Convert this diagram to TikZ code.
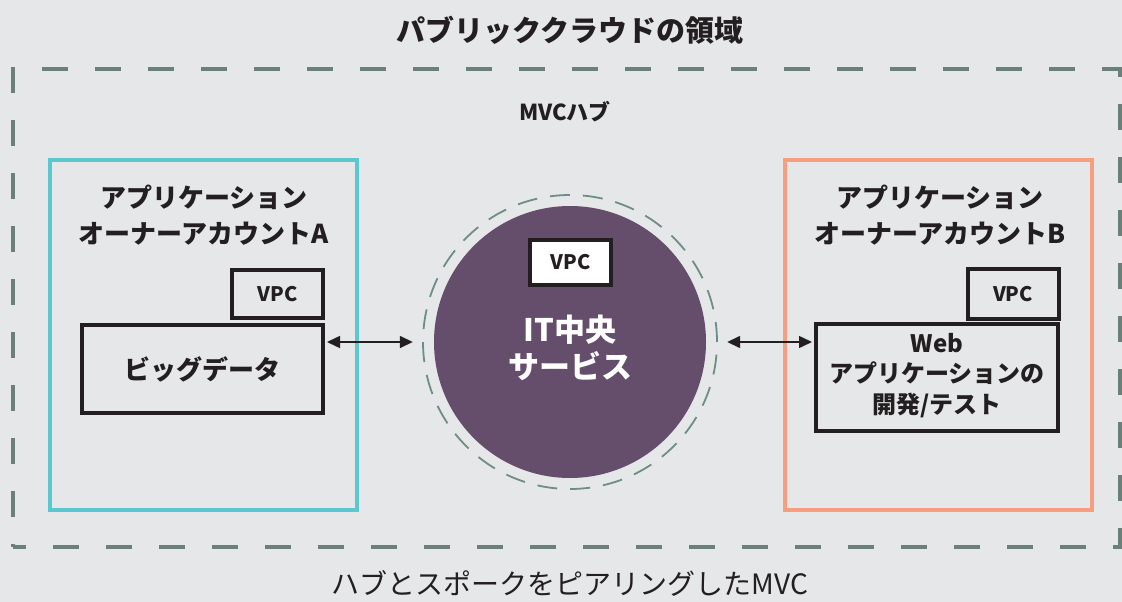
\documentclass[tikz,border=0pt]{standalone}
\usepackage{fontspec}
\setmainfont{Noto Sans CJK JP}
\usetikzlibrary{arrows.meta}
\definecolor{bgc}{HTML}{E6E7E9}
\definecolor{dashc}{HTML}{6B8078}
\definecolor{ringc}{HTML}{6E8E84}
\definecolor{cyanc}{HTML}{5BC8D1}
\definecolor{salmonc}{HTML}{F79D80}
\definecolor{purplec}{HTML}{654E6B}
\definecolor{inkc}{HTML}{231F20}
\tikzset{
  acct/.style={draw, line width=4pt, minimum width=307pt, minimum height=350pt, inner sep=0pt},
  acctlbl/.style={align=center, text=inkc, font=\fontsize{26}{36}\selectfont\bfseries},
  vpcbox/.style={draw=inkc, line width=4pt, minimum width=91pt, minimum height=48pt, inner sep=0pt, text=inkc, font=\fontsize{20}{24}\selectfont\bfseries},
  svcbox/.style={draw=inkc, line width=4pt, inner sep=0pt, text=inkc},
  arr/.style={<->, >={Triangle[length=13pt,width=12pt]}, line width=1.5pt, draw=inkc}
}
\begin{document}
\begin{tikzpicture}[x=1pt,y=-1pt]
\fill[bgc] (0,0) rectangle (1122,602);
\useasboundingbox (0,0) rectangle (1122,602);

\node[text=inkc, font=\fontsize{29}{34}\selectfont\bfseries] (title) at (570,30) {パブリッククラウドの領域};

\node[draw=dashc, line width=4.5pt, dash pattern=on 26pt off 27pt, dash phase=13pt, minimum width=1107pt, minimum height=478pt, inner sep=0pt] (region) at (566.5,308) {};

\node[text=inkc, font=\fontsize{22}{26}\selectfont\bfseries] (mvclbl) at (565,112) {MVCハブ};

% left account
\node[acct, draw=cyanc] (acctA) at (203.5,335) {};
\node[acctlbl] (acctAlbl) at (204,215) {アプリケーション\\オーナーアカウントA};
\node[vpcbox] (vpcA) at (277.5,294) {VPC};
\node[svcbox, minimum width=241pt, minimum height=88pt, font=\fontsize{26}{30}\selectfont\bfseries] (bigdata) at (202.5,369) {ビッグデータ};

% hub
\node[circle, draw=ringc, line width=1.8pt, dash pattern=on 20pt off 13pt, minimum size=294pt, inner sep=0pt] (ring) at (570,342) {};
\node[circle, fill=purplec, minimum size=272pt, inner sep=0pt] (hub) at (570,342) {};
\node[vpcbox, fill=white, minimum width=81pt, minimum height=45pt] (vpcH) at (570.5,262.5) {VPC};
\node[align=center, text=white, font=\fontsize{31}{37}\selectfont\bfseries] (hubtxt) at (570,347.5) {IT中央\\サービス};

% right account
\node[acct, draw=salmonc] (acctB) at (938.5,335) {};
\node[acctlbl] (acctBlbl) at (940,215) {アプリケーション\\オーナーアカウントB};
\node[vpcbox, minimum height=50pt] (vpcB) at (1013,294) {VPC};
\node[svcbox, minimum width=242pt, minimum height=107pt] (web) at (937,377.5) {};
\node[align=center, text=inkc, font=\fontsize{24}{30.5}\selectfont\bfseries] (webtxt) at (937,375.5) {Web\\アプリケーションの\\開発/テスト};

% connectors
\draw[arr, shorten <=2pt, shorten >=21pt] (bigdata.east |- hub.west) -- (hub.west);
\draw[arr, shorten <=21pt, shorten >=2pt] (hub.east) -- (web.west |- hub.east);

\node[text=inkc, font=\fontsize{28}{32}\selectfont] (caption) at (570,583) {ハブとスポークをピアリングしたMVC};
\end{tikzpicture}
\end{document}
